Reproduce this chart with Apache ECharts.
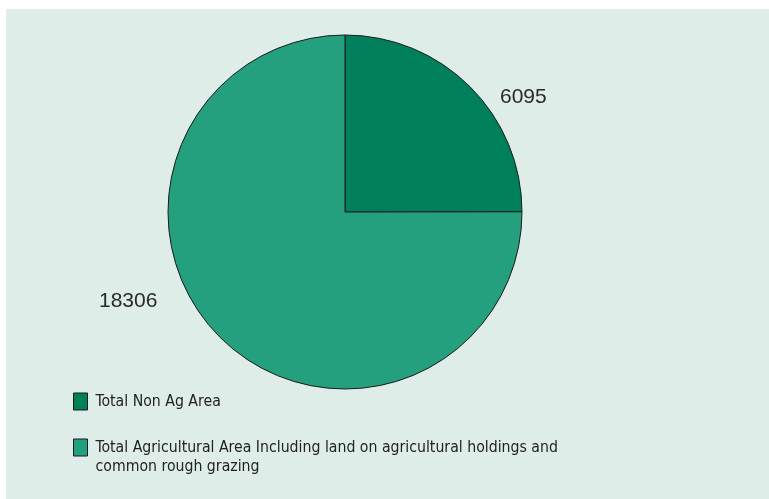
<!DOCTYPE html>
<html>
<head>
<meta charset="utf-8">
<script src="https://cdn.jsdelivr.net/npm/echarts@6/dist/echarts.min.js"></script>
<style>
  html, body { margin: 0; padding: 0; background: #fff; }
  #chart { width: 769px; height: 499px; }
</style>
</head>
<body>
<div id="chart"></div>
<script>
var categories = [
  "Total Non Ag Area",
  "Total Agricultural Area Including land on agricultural holdings and\ncommon rough grazing",
];
var values = [6095, 18306];
var colors = ["#00805a", "#24a07f"];

// label spots (left edge, middle) per slice
var labelSpots = [
  { x: 500, y: 97 },
  { x: 99, y: 301 },
];

var legendFont = "'Liberation Sans Narrow', 'DejaVu Sans Condensed', 'Liberation Sans', sans-serif";

function legendBox(names, top) {
  return {
    orient: "vertical",
    left: 68,
    top: top,
    icon: "rect",
    itemWidth: 14,
    itemHeight: 17,
    itemStyle: { borderColor: "#1a1a1a", borderWidth: 1 },
    textStyle: {
      fontFamily: legendFont,
      fontSize: 15.7,
      lineHeight: 19,
      color: "#222",
      padding: [0, 0, 0, 3],
    },
    // empty first line keeps the icon level with the first text line
    formatter: function (name) {
      return name.indexOf("\n") >= 0 ? "\n" + name : name;
    },
    data: names,
  };
}

var myChart = echarts.init(document.getElementById("chart"));
var option = {
  backgroundColor: "#fff",
  animation: false,
  graphic: [
    {
      type: "rect",
      z: -10,
      shape: { x: 6, y: 9, width: 763, height: 490 },
      style: { fill: "#deede8" },
    },
  ],
  legend: [legendBox([categories[0]], 387), legendBox([categories[1]], 414)],
  series: [
    {
      type: "pie",
      center: [345, 212],
      radius: 177,
      startAngle: 90,
      clockwise: true,
      data: categories.map(function (c, i) {
        return { name: c, value: values[i], itemStyle: { color: colors[i] } };
      }),
      itemStyle: { borderColor: "#1a1a1a", borderWidth: 1 },
      label: {
        show: true,
        position: "outside",
        formatter: "{c}",
        fontFamily: "Liberation Sans",
        fontSize: 21,
        color: "#2a2a2a",
      },
      labelLine: { show: false },
      labelLayout: function (params) {
        var p = labelSpots[params.dataIndex];
        return { x: p.x, y: p.y, align: "left", verticalAlign: "middle" };
      },
      emphasis: { disabled: true },
    },
  ],
};
myChart.setOption(option);
</script>
</body>
</html>
